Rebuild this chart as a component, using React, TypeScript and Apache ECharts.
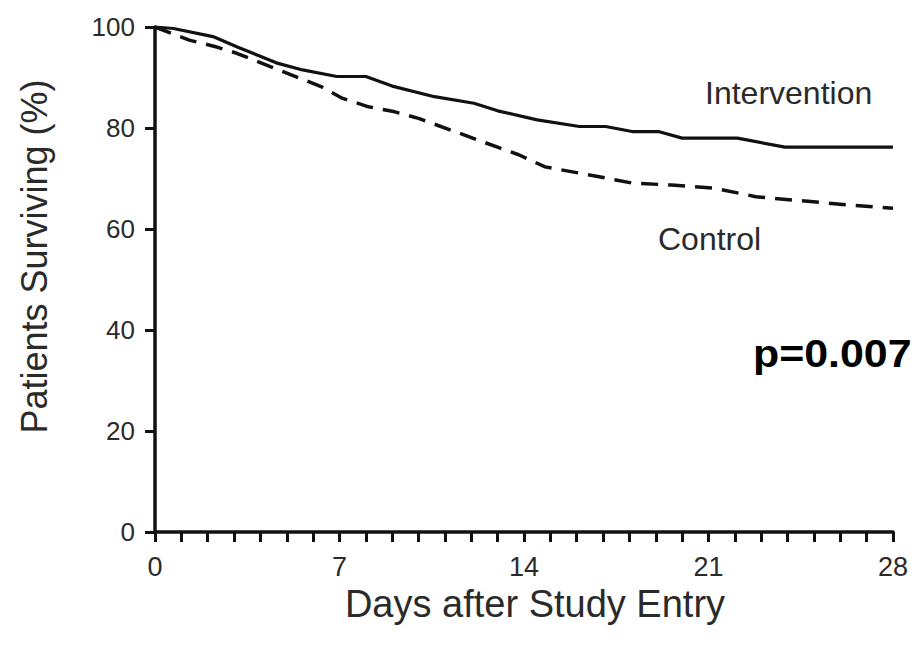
import React, { useEffect, useRef } from "react";
import * as echarts from "echarts";

const interventionDays = [0, 0.7, 2.2, 3.1, 4.6, 5.6, 6.9, 8.0, 9.0, 10.6, 12.1, 13.0, 14.5, 16.1, 17.1, 18.1, 19.1, 20.0, 22.1, 23.9, 28];
const interventionPct = [100, 99.7, 98.1, 96.1, 92.9, 91.5, 90.2, 90.2, 88.3, 86.2, 84.9, 83.4, 81.6, 80.3, 80.3, 79.3, 79.3, 78.0, 78.0, 76.2, 76.2];

const controlDays = [0, 1.3, 2.3, 3.1, 4.4, 6.3, 7.1, 8.1, 9.1, 10.0, 11.9, 13.1, 13.8, 14.8, 16.8, 18.1, 19.6, 21.2, 22.8, 24.3, 26.2, 28];
const controlPct = [100, 97.4, 96.1, 94.8, 92.1, 88.2, 85.9, 84.2, 83.2, 81.9, 78.3, 76.0, 74.7, 72.3, 70.4, 69.1, 68.7, 68.1, 66.4, 65.7, 64.8, 64.1];

const xTicks = [0, 7, 14, 21, 28];
const yTicks = [0, 20, 40, 60, 80, 100];

const seriesLabels = ["Intervention", "Control"];
const pValueText = "p=0.007";
const xAxisTitle = "Days after Study Entry";
const yAxisTitle = "Patients Surviving (%)";

const FONT = "'Liberation Sans', Arial, Helvetica, sans-serif";
const INK = "#111";
const TXT = "#2a2a2a";

export default function App() {
  const ref = useRef<HTMLDivElement>(null);
  useEffect(() => {
    if (!ref.current) return;
    const chart = echarts.init(ref.current, null, { renderer: "svg" });
    chart.setOption({
      animation: false,
      backgroundColor: "#fff",
      grid: { left: 140, right: 11, top: 19, bottom: 107, containLabel: false },
      xAxis: {
        type: "value",
        min: xTicks[0],
        max: xTicks[xTicks.length - 1],
        interval: 7,
        name: xAxisTitle,
        nameLocation: "middle",
        nameGap: 44,
        nameTextStyle: { fontSize: 38, color: TXT, fontFamily: FONT, padding: [0, 0, 0, 22] },
        axisLine: { show: true, lineStyle: { color: INK, width: 3.5 } },
        axisTick: { show: true, length: 10, lineStyle: { color: INK, width: 3 } },
        minorTick: { show: true, splitNumber: 7, length: 10, lineStyle: { color: INK, width: 3 } },
        splitLine: { show: false },
        axisLabel: { fontSize: 27, color: TXT, fontFamily: FONT, margin: 21 },
      },
      yAxis: {
        type: "value",
        min: yTicks[0],
        max: yTicks[yTicks.length - 1],
        interval: 20,
        name: yAxisTitle,
        nameLocation: "middle",
        nameGap: 103,
        nameRotate: 90,
        nameTextStyle: { fontSize: 36, color: TXT, fontFamily: FONT, padding: [0, 0, 0, 46] },
        axisLine: { show: true, lineStyle: { color: INK, width: 3.5 } },
        axisTick: { show: true, length: 10, lineStyle: { color: INK, width: 3 } },
        splitLine: { show: false },
        axisLabel: { fontSize: 26, color: TXT, fontFamily: FONT, margin: 20 },
      },
      series: [
        {
          name: seriesLabels[0],
          type: "line",
          data: interventionDays.map((d, i) => [d, interventionPct[i]]),
          showSymbol: false,
          lineStyle: { color: INK, width: 3.2 },
        },
        {
          name: seriesLabels[1],
          type: "line",
          data: controlDays.map((d, i) => [d, controlPct[i]]),
          showSymbol: false,
          lineStyle: { color: INK, width: 3.5, type: [17, 10] },
        },
      ],
      graphic: [
        {
          type: "text",
          x: 697,
          y: 69,
          style: { text: seriesLabels[0], fontSize: 32, fill: TXT, fontFamily: FONT, textVerticalAlign: "top" },
        },
        {
          type: "text",
          x: 650,
          y: 215,
          style: { text: seriesLabels[1], fontSize: 32, fill: TXT, fontFamily: FONT, textVerticalAlign: "top" },
        },
        {
          type: "text",
          x: 745,
          y: 326,
          scaleX: 1.1,
          style: { text: pValueText, fontSize: 39, fontWeight: "bold", fill: "#000", fontFamily: FONT, textVerticalAlign: "top" },
        },
      ],
    });
    return () => chart.dispose();
  }, []);
  return <div ref={ref} style={{ width: 903, height: 631 }} />;
}
